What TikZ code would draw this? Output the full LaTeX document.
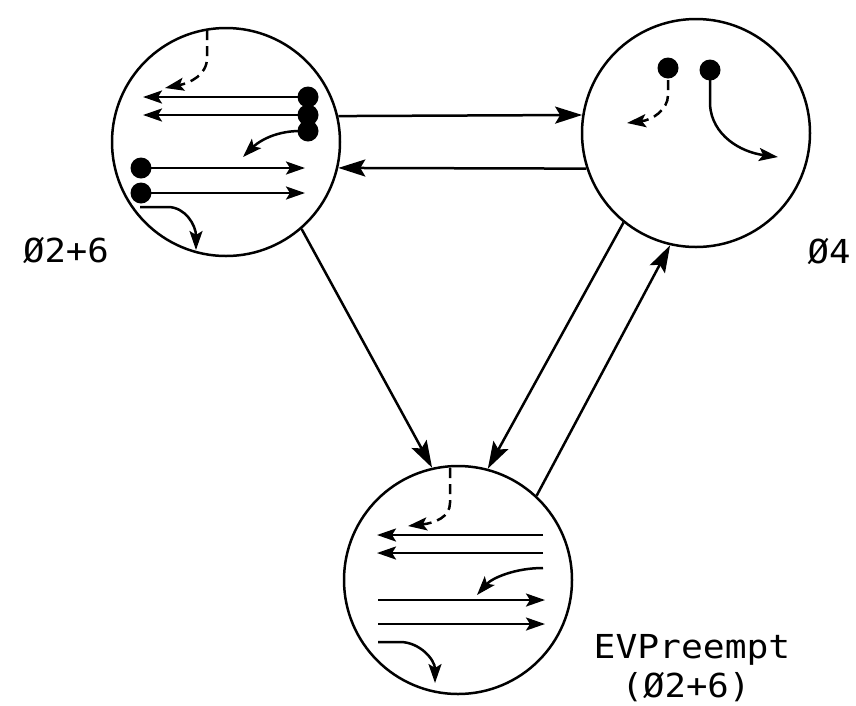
\documentclass[tikz,border=0pt]{standalone}
\usepackage{fontspec}
\usepackage{graphicx}
\newfontfamily\lblfont{DejaVu Sans Mono}
\usetikzlibrary{arrows.meta}
\tikzset{
  circ/.style={circle,draw,line width=2.5pt,minimum size=228pt,inner sep=0pt},
  conn/.style={line width=2.5pt,-{Stealth[length=27pt,width=17pt,inset=5pt]}},
  inarr/.style={line width=2.5pt,-{Stealth[length=19pt,width=13pt,inset=4pt]}},
  dasharr/.style={inarr,dash pattern=on 10pt off 6pt},
  dotc/.style={fill=black},
  lbl/.style={font=\lblfont\fontsize{33}{36}\selectfont,anchor=base,inner sep=0pt}
}
\begin{document}
\begin{tikzpicture}[x=1pt,y=-1pt]
\useasboundingbox (0,0) rectangle (856,705);
% circles
\node[circ] (c1) at (226,142) {};
\node[circ] (c2) at (696,133) {};
\node[circ] (c3) at (458,580) {};
% connectors
\draw[conn] (c1.13.7) -- (c2.171);
\draw[conn] (c2.-162) -- (c1.-13.2);
\draw[conn] (c1.-49) -- (c3.103);
\draw[conn] (c2.-129.4) -- (c3.75);
\draw[conn] (c3.47.7) -- (c2.-103.3);
% contents of circle 1
\draw[dasharr] (207,30) -- (207,58) .. controls (207,75) and (190,83) .. (165,88);
\draw[inarr] (300,97) -- (143,97);
\draw[inarr] (300,115) -- (143,115);
\fill[dotc] (308,97) circle (10.5pt);
\fill[dotc] (308,115) circle (10.5pt);
\fill[dotc] (308,131) circle (10.5pt);
\draw[inarr] (300,131) .. controls (272,131) and (256,144) .. (243,157);
\fill[dotc] (141,168) circle (10.5pt);
\fill[dotc] (141,193) circle (10.5pt);
\draw[inarr] (141,168) -- (305,168);
\draw[inarr] (141,193) -- (305,193);
\draw[inarr] (140,207) -- (168,207) .. controls (185,207) and (196,225) .. (196,250);
% contents of circle 2
\fill[dotc] (668,68) circle (10.5pt);
\fill[dotc] (710,70) circle (10.5pt);
\draw[dasharr] (668,80) -- (668,95) .. controls (668,110) and (652,120) .. (627,123);
\draw[inarr] (710,80) -- (710,105) .. controls (712,135) and (740,152) .. (778,157);
% contents of circle 3
\draw[dasharr] (450,468) -- (450,503) .. controls (450,517) and (435,523) .. (408,526);
\draw[inarr] (543,535) -- (377,535);
\draw[inarr] (543,553) -- (377,553);
\draw[inarr] (543,568) .. controls (515,568) and (492,578) .. (477,595);
\draw[inarr] (378,600) -- (545,600);
\draw[inarr] (378,624) -- (545,624);
\draw[inarr] (378,642) -- (400,642) .. controls (420,642) and (435,660) .. (435,683);
% labels
\node[lbl] (l1) at (66,262) {\scalebox{1.08}[1]{Ø2+6}};
\node[lbl] (l2) at (829,263) {\scalebox{1.08}[1]{Ø4}};
\node[lbl] (l3) at (692,658) {\scalebox{1.1}[1]{EVPreempt}};
\node[lbl] (l4) at (686,697) {\scalebox{1.08}[1]{(Ø2+6)}};
\end{tikzpicture}
\end{document}
